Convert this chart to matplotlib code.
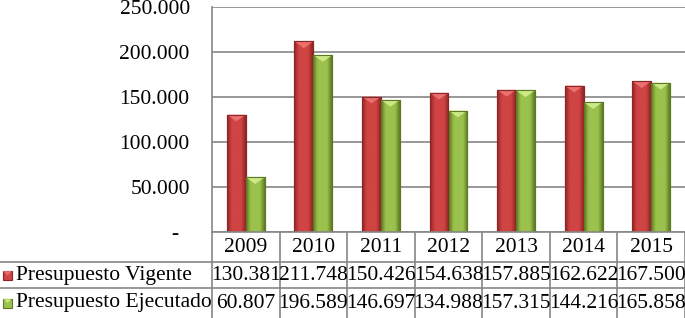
import numpy as np
import matplotlib
matplotlib.use('Agg')
import matplotlib.pyplot as plt
from matplotlib.patches import Polygon, Rectangle
from matplotlib.colors import LinearSegmentedColormap

# Data
years = ['2009', '2010', '2011', '2012', '2013', '2014', '2015']
series_names = ['Presupuesto Vigente', 'Presupuesto Ejecutado']
vigente = [130.381, 211.748, 150.426, 154.638, 157.885, 162.622, 167.500]
ejecutado = [60.807, 196.589, 146.697, 134.988, 157.315, 144.216, 165.858]
y_ticks = [0, 50, 100, 150, 200, 250]
y_tick_labels = ['-  ', '50.000', '100.000', '150.000', '200.000', '250.000']

# (dark edge, mid, light highlight)
red = ['#8e2424', '#d04444', '#f07878']
green = ['#5d7a22', '#9cc24e', '#d4f090']

plt.rcParams['font.family'] = ['Liberation Serif', 'DejaVu Serif']
FS = 15.5

W, H = 685, 318
fig = plt.figure(figsize=(W / 100, H / 100), dpi=100)

# plot area in pixels
left, right, top, bottom = 212, 685, 7, 232
ax = fig.add_axes([left / W, (H - bottom) / H, (right - left) / W, (bottom - top) / H])

n = len(years)
x = np.arange(n)
bw = 0.28


def draw_bars(xpos, vals, cols):
    cmap = LinearSegmentedColormap.from_list('b', [cols[0], cols[1], cols[1], cols[1], cols[0]])
    grad = np.linspace(0, 1, 64).reshape(1, -1)
    bars = ax.bar(xpos, vals, bw, color=cols[1], edgecolor=cols[0], linewidth=0.8, zorder=3)
    for b in bars:
        bx, by = b.get_x(), b.get_y()
        w, h = b.get_width(), b.get_height()
        im = ax.imshow(grad, extent=[bx, bx + w, by, by + h], aspect='auto',
                       cmap=cmap, zorder=3.1, interpolation='bicubic')
        im.set_clip_path(b)
        th = min(7.5, h * 0.5)
        tri = Polygon([[bx, by + h], [bx + w, by + h], [bx + w / 2, by + h - th]],
                      closed=True, facecolor=cols[2], edgecolor='none', alpha=0.85, zorder=3.2)
        ax.add_patch(tri)
        ax.add_patch(Rectangle((bx, by), w, h, fill=False, edgecolor=cols[0], linewidth=0.8, zorder=3.3))
    return bars


draw_bars(x - bw / 2, vigente, red)
draw_bars(x + bw / 2, ejecutado, green)

ax.set_xlim(-0.5, n - 0.5)
ax.set_ylim(0, 250)
ax.set_yticks(y_ticks)
ax.set_yticklabels(y_tick_labels, fontsize=FS)
ax.tick_params(axis='y', length=0, pad=16)
ax.set_xticks([])
ax.grid(axis='y', color='#868686', linewidth=1.2, zorder=0)
ax.set_axisbelow(True)
for s in ['top', 'right', 'bottom']:
    ax.spines[s].set_visible(False)
ax.spines['left'].set_color('#868686')
ax.spines['left'].set_linewidth(1.2)

# data table below the chart
unit = (right - left) / n
tx0 = -0.5 - left / unit
tax = fig.add_axes([0, 0, 1, (H - bottom) / H])
tax.set_xlim(tx0, n - 0.5)
tax.set_ylim(H - bottom, 0)
tax.axis('off')

lc = '#868686'
row_lines = [30, 56]
tax.plot([-0.5, n - 0.5], [0, 0], color=lc, lw=1.2, clip_on=False)
for yl in row_lines:
    tax.plot([tx0, n - 0.5], [yl, yl], color=lc, lw=1.2)
for k in range(n + 1):
    tax.plot([-0.5 + k, -0.5 + k], [0, H - bottom], color=lc, lw=1.2)

row_centers = [15.5, 43.5, 71]
for i, yr in enumerate(years):
    tax.text(i, row_centers[0], yr, ha='center', va='center', fontsize=FS)
    tax.text(i, row_centers[1], f'{vigente[i]:.3f}', ha='center', va='center', fontsize=FS)
    tax.text(i, row_centers[2], f'{ejecutado[i]:.3f}', ha='center', va='center', fontsize=FS)

for r, (name, cols) in enumerate(zip(series_names, [red, green])):
    cy = row_centers[r + 1]
    sx = tx0 + 3 / unit
    sw = 9 / unit
    tax.add_patch(Rectangle((sx, cy - 4.5), sw, 9, facecolor=cols[1], edgecolor=cols[0], lw=0.8))
    tax.add_patch(Polygon([[sx, cy - 4.5], [sx + sw, cy - 4.5], [sx + sw / 2, cy]],
                          facecolor=cols[2], edgecolor='none', alpha=0.8))
    tax.text(tx0 + 16 / unit, cy, name, ha='left', va='center', fontsize=FS)

fig.savefig('out.png', dpi=100)
